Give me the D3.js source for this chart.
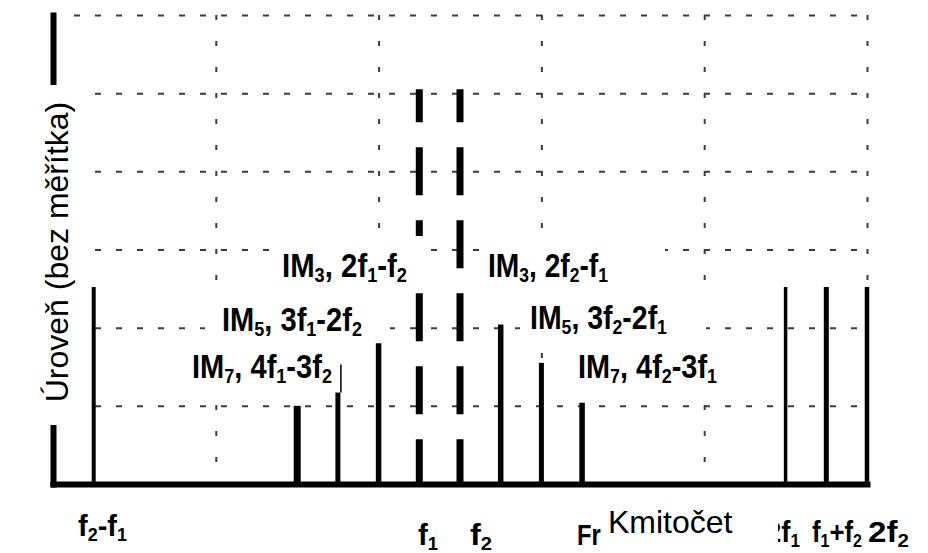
<!DOCTYPE html>
<html>
<head>
<meta charset="utf-8">
<script src="https://d3js.org/d3.v7.min.js"></script>
<style>
  body {margin: 0; background: #fff;}
  svg {display: block;}
  .lbl {font-family: "Liberation Sans Narrow", "Arial Narrow", "Liberation Sans", Arial, sans-serif;
        font-weight: bold; fill: #000;}
  .over {font-family: "Liberation Sans", Arial, sans-serif; fill: #000;}
</style>
</head>
<body>
<div id="chart"></div>
<script>
// spectral lines: frequency in units of (f2-f1), level in grid steps (no scale)
const names  = ["f2-f1", "IM7L", "IM5L", "IM3L", "f1", "f2", "IM3R", "IM5R", "IM7R", "2f1", "f1+f2", "2f2"];
const freqs  = [1, 6, 7, 8, 9, 10, 11, 12, 13, 18, 19, 20];
const levels = [2.52, 1.0, 1.17, 1.8, 5.05, 5.05, 2.04, 1.55, 1.04, 2.52, 2.52, 2.52];
const carriers = ["f1", "f2"];          // drawn dashed
const traceLevels = {"IM5L": 1.53};     // thin trace above the IM5 line

const yGrid = [1, 2, 3, 4, 5, 6];
const xGrid = [4, 8, 12, 16, 20];

// "_x" = subscript; the frequency label is mostly hidden by the Czech title box
const xTickLabels = ["f_2-f_1", "f_1", "f_2", "Fr", "2f_1", "f_1+f_2", "2f_2"];
const imLabels = ["IM_3, 2f_1-f_2", "IM_5, 3f_1-2f_2", "IM_7, 4f_1-3f_2",
                  "IM_3, 2f_2-f_1", "IM_5, 3f_2-2f_1", "IM_7, 4f_2-3f_1"];
const yTitle = "Úroveň (bez měřítka)";
const xTitle = "Kmitočet";

/* layout */
const W = 928, H = 553;
const x = d3.scaleLinear().domain([0, 20]).range([53, 867]);
const y = d3.scaleLinear().domain([0, 6]).range([484, 15]);

const stemWidth = {"f2-f1": 4, "IM7L": 7, "IM5L": 5, "IM3L": 5.5, "f1": 7, "f2": 7,
                   "IM3R": 5.5, "IM5R": 5, "IM7R": 5.5, "2f1": 3.5, "f1+f2": 5, "2f2": 4.5};
// left x, baseline, width
const tickLayout = [[78, 536, 49], [418, 545, 20], [470, 545, 22], [577, 545, 24],
                    [766, 542, 34], [812, 542, 50], [868, 542, 41]];
// left x, baseline, width, white box padding [t, r, b, l]
const imLayout = [[282, 277, 125, [17, 21, 5, 12]],
                  [222, 331, 140, [12, 28, 3, 17]],
                  [192, 378, 140, [10, 2, 7, 7]],
                  [488, 277, 120, [17, 57, 12, 6]],
                  [530, 329, 137, [10, 39, 5, 10]],
                  [578, 378, 139, [13, 3, 7, 18]]];

const svg = d3.select("#chart").append("svg")
  .attr("width", W).attr("height", H);

/* grid */
svg.append("g")
   .attr("transform", `translate(${x(0) + 21},0)`)
   .call(d3.axisLeft(y).tickValues(yGrid).tickSize(-(x(20) - x(0) - 21)).tickFormat("").tickSizeOuter(0))
   .call(g => g.select(".domain").remove())
   .selectAll("line")
   .attr("stroke", "#3c3c3c").attr("stroke-width", 2).attr("stroke-dasharray", "6,15");

svg.append("g")
   .attr("transform", `translate(0,${y(6)})`)
   .call(d3.axisTop(x).tickValues(xGrid).tickSize(-(y(0) - y(6))).tickFormat("").tickSizeOuter(0))
   .call(g => g.select(".domain").remove())
   .selectAll("line")
   .attr("stroke", "#3c3c3c").attr("stroke-width", 2).attr("stroke-dasharray", "5,21");

/* spectral lines */
const stems = names.map((n, i) => ({name: n, f: freqs[i], v: levels[i]}));

svg.append("g").selectAll("line")
   .data(stems)
   .join("line")
   .attr("x1", d => x(d.f)).attr("x2", d => x(d.f))
   .attr("y1", d => y(d.v)).attr("y2", y(0))
   .attr("stroke", "#000")
   .attr("stroke-width", d => stemWidth[d.name])
   .attr("stroke-dasharray", d => carriers.includes(d.name) ? "48,25" : null)
   .attr("stroke-dashoffset", d => carriers.includes(d.name) ? 15 : null);

svg.append("g").selectAll("line")
   .data(stems.filter(d => traceLevels[d.name]))
   .join("line")
   .attr("x1", d => x(d.f) + 3).attr("x2", d => x(d.f) + 3)
   .attr("y1", d => y(traceLevels[d.name])).attr("y2", d => y(d.v))
   .attr("stroke", "#000").attr("stroke-width", 1.5);

/* rich text helper */
function rich(g, str, lx, by, size, width) {
  const t = g.append("text").attr("class", "lbl").attr("x", lx).attr("y", by)
             .attr("font-size", size);
  const parts = str.split(/_(.)/);
  let down = false;
  parts.forEach((p, i) => {
    if (!p) return;
    const sub = i % 2 === 1;
    const ts = t.append("tspan").text(p);
    if (sub) { ts.attr("font-size", size * 0.62); if (!down) { ts.attr("dy", 5); down = true; } }
    else if (down) { ts.attr("dy", -5); down = false; }
  });
  if (width) {
    const w = t.node().getBBox().width;
    t.attr("transform", `translate(${lx},0) scale(${width / w},1) translate(${-lx},0)`);
  }
  return t;
}

/* IM labels with white boxes */
const labG = svg.append("g");
imLabels.forEach((s, i) => {
  const [lx, by, w, p] = imLayout[i];
  labG.append("rect")
      .attr("x", lx - p[3]).attr("y", by - 24 - p[0])
      .attr("width", w + p[3] + p[1]).attr("height", 31 + p[0] + p[2])
      .attr("fill", "#fff");
  rich(labG, s, lx, by, 33, w);
});

/* axes */
svg.append("g")
   .attr("transform", `translate(0,${y(0)})`)
   .call(d3.axisBottom(x).tickValues([]).tickSizeOuter(0))
   .select(".domain").attr("stroke", "#000").attr("stroke-width", 6).attr("stroke-linecap", "square");

svg.append("g")
   .attr("transform", `translate(${x(0)},0)`)
   .call(d3.axisLeft(y).tickValues([]).tickSizeOuter(0))
   .select(".domain").attr("stroke", "#000").attr("stroke-width", 6).attr("stroke-linecap", "square");

/* tick labels */
const tickG = svg.append("g");
xTickLabels.forEach((s, i) => {
  const [lx, by, w] = tickLayout[i];
  rich(tickG, s, lx, by, 30, w);
});

/* overlaid titles */
svg.append("rect").attr("x", 10).attr("y", 85).attr("width", 80).attr("height", 340).attr("fill", "#fff");
svg.append("text").attr("class", "over")
   .attr("transform", "translate(68,252) rotate(-90)")
   .attr("text-anchor", "middle").attr("font-size", 32)
   .text(yTitle);

svg.append("rect").attr("x", 602).attr("y", 495).attr("width", 176).attr("height", 58).attr("fill", "#fff");
svg.append("text").attr("class", "over")
   .attr("x", 608).attr("y", 533).attr("font-size", 32)
   .text(xTitle);
</script>
</body>
</html>
